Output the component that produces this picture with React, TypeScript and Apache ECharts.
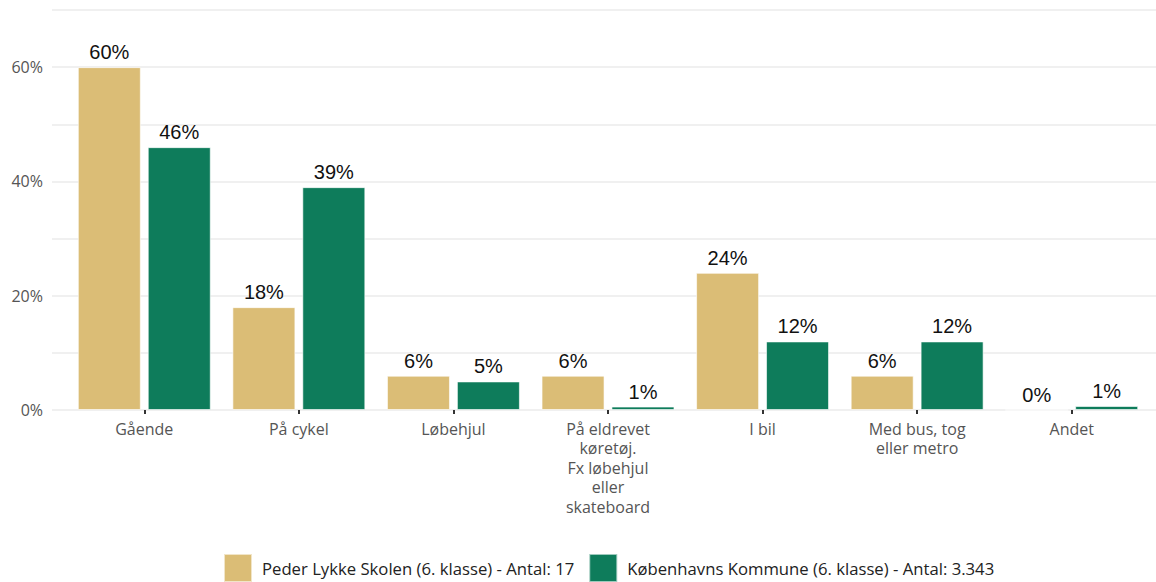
import React, { useEffect, useRef } from "react";
import * as echarts from "echarts";

const categories = [
  "Gående",
  "På cykel",
  "Løbehjul",
  "På eldrevet\nkøretøj.\nFx løbehjul\neller\nskateboard",
  "I bil",
  "Med bus, tog\neller metro",
  "Andet",
];
const schoolName = "Peder Lykke Skolen (6. klasse) - Antal: 17";
const kommuneName = "Københavns Kommune (6. klasse) - Antal: 3.343";
const schoolValues = [60, 18, 6, 6, 24, 6, 0];
const kommuneValues = [46, 39, 5, 0.6, 12, 12, 0.7];
const yTicks = [0, 10, 20, 30, 40, 50, 60, 70];

const GOLD = "#DBBD76";
const GREEN = "#0E7C5B";

export default function App() {
  const ref = useRef<HTMLDivElement>(null);
  useEffect(() => {
    const chart = echarts.init(ref.current!, null, { renderer: "svg" });
    const labelStyle = {
      show: true,
      position: "top" as const,
      fontFamily: "Liberation Sans, Arial, sans-serif",
      fontSize: 20,
      color: "#111",
      distance: 5,
      formatter: (p: any) => Math.round(p.value) + "%",
    };
    chart.setOption({
      animation: false,
      grid: [
        { left: 52, top: 10, width: 1110, height: 400 },
        { left: 67, top: 10, width: 1082, height: 400 },
      ],
      xAxis: [
        { type: "value", gridIndex: 0, show: false, min: 0, max: 1 },
        {
          type: "category",
          gridIndex: 1,
          data: categories,
          axisLine: { show: false },
          axisTick: {
            show: true,
            alignWithLabel: true,
            length: 4,
            lineStyle: { color: "#333", width: 2 },
          },
          axisLabel: {
            interval: 0,
            margin: 9,
            fontFamily: "Open Sans, sans-serif",
            fontSize: 16,
            lineHeight: 19.5,
            color: "#555",
          },
        },
      ],
      yAxis: [
        {
          type: "value",
          gridIndex: 0,
          min: yTicks[0],
          max: yTicks[yTicks.length - 1],
          interval: 10,
          axisLine: { show: false },
          axisTick: { show: false },
          splitLine: { show: true, lineStyle: { color: "#EBEBEB", width: 1.5 } },
          axisLabel: {
            margin: 9,
            fontFamily: "Open Sans, sans-serif",
            fontSize: 16,
            color: "#555",
            formatter: (v: number) => (v % 20 === 0 && v < 70 ? v + "%" : ""),
          },
        },
        {
          type: "value",
          gridIndex: 1,
          min: yTicks[0],
          max: yTicks[yTicks.length - 1],
          interval: 10,
          show: false,
          splitLine: { show: false },
        },
      ],
      legend: {
        left: 218,
        top: 548,
        itemWidth: 28,
        itemHeight: 28,
        itemGap: 14,
        icon: "rect",
        textStyle: {
          fontFamily: "Open Sans, sans-serif",
          fontSize: 16.7,
          color: "#222",
          padding: [0, 0, 0, 5],
        },
        data: [schoolName, kommuneName],
      },
      series: [
        {
          name: schoolName,
          type: "bar",
          xAxisIndex: 1,
          yAxisIndex: 1,
          data: schoolValues,
          barWidth: 63,
          barGap: "11%",
          itemStyle: { color: GOLD, borderColor: "rgba(255,255,255,0.6)", borderWidth: 1 },
          label: labelStyle,
        },
        {
          name: kommuneName,
          type: "bar",
          xAxisIndex: 1,
          yAxisIndex: 1,
          data: kommuneValues,
          barWidth: 63,
          barGap: "11%",
          itemStyle: { color: GREEN, borderColor: "rgba(255,255,255,0.6)", borderWidth: 1 },
          label: labelStyle,
        },
      ],
    });
    return () => chart.dispose();
  }, []);
  return (
    <div
      ref={ref}
      style={{ position: "fixed", left: 0, top: 0, width: 1156, height: 582, background: "#fff" }}
    />
  );
}
